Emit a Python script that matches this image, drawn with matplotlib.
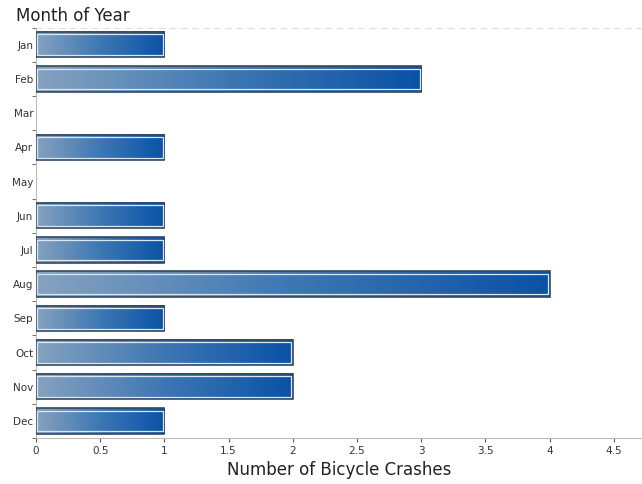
import matplotlib.pyplot as plt
import numpy as np
from matplotlib.colors import LinearSegmentedColormap
from matplotlib.patches import Rectangle

months = ["Jan", "Feb", "Mar", "Apr", "May", "Jun",
          "Jul", "Aug", "Sep", "Oct", "Nov", "Dec"]
crashes = [1, 3, 0, 1, 0, 1, 1, 4, 1, 2, 2, 1]
xticks = [0, 0.5, 1, 1.5, 2, 2.5, 3, 3.5, 4, 4.5]

fig = plt.figure(figsize=(6.42, 4.84), dpi=100)
ax = fig.add_axes([0.056, 0.095, 0.944, 0.848])

grad = LinearSegmentedColormap.from_list("bar", ["#86a2bf", "#3d77b3", "#0a52a6"])
ramp = np.linspace(0, 1, 256).reshape(1, -1)

pos = np.arange(len(months))
bars = ax.barh(pos, crashes, height=0.74, color="none", edgecolor="none")
for b in bars:
    w = b.get_width()
    if w == 0:
        continue
    x0, y0, h = b.get_x(), b.get_y(), b.get_height()
    ax.imshow(ramp, cmap=grad, aspect="auto", interpolation="bilinear",
              extent=[x0, x0 + w, y0 + h, y0], zorder=2)
    # dark outer frame with a thin white inner line
    ax.add_patch(Rectangle((x0, y0), w, h, fill=False, ec="#34495e", lw=1.2, zorder=3))
    ax.add_patch(Rectangle((x0 + 0.012, y0 + 0.07), w - 0.024, h - 0.14,
                           fill=False, ec="#d8e6f5", lw=0.9, zorder=3))

ax.set_xlim(0, 4.72)
ax.set_ylim(len(months) - 0.5, -0.5)
ax.set_yticks(pos)
ax.set_yticklabels(months, fontsize=7.5, color="#333333")
ax.set_yticks(np.arange(-0.5, len(months)), minor=True)
ax.tick_params(axis="y", which="major", length=0, pad=2)
ax.tick_params(axis="y", which="minor", length=3, color="#555555")
ax.set_xticks(xticks)
ax.set_xticklabels([f"{t:g}" for t in xticks], fontsize=7.5, color="#333333")
ax.tick_params(axis="x", length=3, color="#555555", pad=3)

for s in ["top", "right"]:
    ax.spines[s].set_visible(False)
ax.spines["left"].set_color("#bbbbbb")
ax.spines["bottom"].set_color("#bbbbbb")
ax.axhline(-0.5, color="#dddddd", lw=0.8, ls=(0, (6, 4)), zorder=1)

ax.set_xlabel("Number of Bicycle Crashes", fontsize=12, color="#222222", labelpad=3)
fig.text(0.025, 0.985, "Month of Year", fontsize=12, color="#222222", va="top", ha="left")

plt.savefig("out.png", dpi=100)
